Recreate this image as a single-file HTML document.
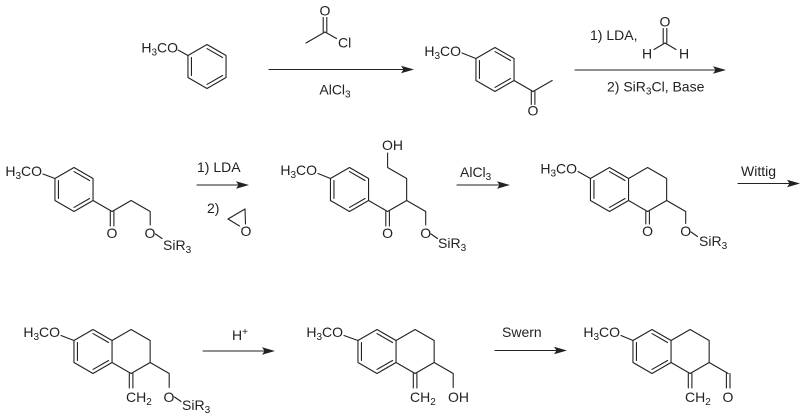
<!DOCTYPE html>
<html>
<head>
<meta charset="utf-8">
<style>
html,body{margin:0;padding:0;background:#fff;}
svg{display:block;}
text{font-family:"Liberation Sans",Arial,sans-serif;font-size:14px;fill:#222;}
.s{font-size:10px;}
</style>
</head>
<body>
<svg width="800" height="419" viewBox="0 0 800 419" xmlns="http://www.w3.org/2000/svg">
<g fill="none" stroke="#222" stroke-width="1.1" stroke-linecap="round" stroke-linejoin="round">

<!-- ===== A: anisole ===== -->
<polygon points="207,44.5 226.05,55.5 226.05,77.5 207,88.5 187.95,77.5 187.95,55.5"/>
<line x1="207" y1="48.55" x2="222.55" y2="57.52"/>
<line x1="222.55" y1="75.48" x2="207" y2="84.45"/>
<line x1="191.45" y1="75.48" x2="191.45" y2="57.52"/>
<line x1="178" y1="50" x2="187.95" y2="55.5"/>

<!-- ===== B: acetyl chloride ===== -->
<line x1="325" y1="32" x2="306" y2="43"/>
<line x1="323.2" y1="32" x2="323.2" y2="17.5"/>
<line x1="326.8" y1="32" x2="326.8" y2="17.5"/>
<line x1="325" y1="32" x2="336.5" y2="38.5"/>

<!-- arrow 1 -->
<line x1="269" y1="69.5" x2="404" y2="69.5"/>

<!-- ===== C: 4-methoxyacetophenone ===== -->
<polygon points="495,47.5 514.05,58.5 514.05,80.5 495,91.5 475.95,80.5 475.95,58.5"/>
<line x1="495" y1="51.55" x2="510.55" y2="60.52"/>
<line x1="510.55" y1="78.48" x2="495" y2="87.45"/>
<line x1="479.45" y1="78.48" x2="479.45" y2="60.52"/>
<line x1="462" y1="53" x2="475.95" y2="58.5"/>
<line x1="514.05" y1="80.5" x2="533.1" y2="91.5"/>
<line x1="533.1" y1="91.5" x2="552.15" y2="80.5"/>
<line x1="531.3" y1="91.5" x2="531.3" y2="104.5"/>
<line x1="534.9" y1="91.5" x2="534.9" y2="104.5"/>

<!-- arrow 2 -->
<line x1="575" y1="70" x2="716" y2="70"/>
<!-- formaldehyde -->
<line x1="663.2" y1="43" x2="663.2" y2="28.5"/>
<line x1="666.8" y1="43" x2="666.8" y2="28.5"/>
<line x1="665" y1="43" x2="654" y2="49.5"/>
<line x1="665" y1="43" x2="676" y2="49.5"/>

<!-- ===== D ===== -->
<polygon points="74,167.5 93.05,178.5 93.05,200.5 74,211.5 54.95,200.5 54.95,178.5"/>
<line x1="74" y1="171.55" x2="89.55" y2="180.52"/>
<line x1="89.55" y1="198.48" x2="74" y2="207.45"/>
<line x1="58.45" y1="198.48" x2="58.45" y2="180.52"/>
<line x1="43" y1="174" x2="54.95" y2="178.5"/>
<polyline points="93.05,200.5 112.1,211.5 131.15,200.5 150.2,211.5 150.2,225"/>
<line x1="110.3" y1="211.5" x2="110.3" y2="226"/>
<line x1="113.9" y1="211.5" x2="113.9" y2="226"/>
<line x1="155.5" y1="234" x2="162" y2="238.5"/>

<!-- arrow 3 -->
<line x1="197" y1="185" x2="239" y2="185"/>
<!-- epoxide -->
<line x1="228" y1="219" x2="245" y2="209"/>
<line x1="245" y1="209" x2="245.5" y2="224"/>
<line x1="228" y1="219" x2="239.5" y2="226"/>

<!-- ===== E ===== -->
<polygon points="349.5,167.5 368.55,178.5 368.55,200.5 349.5,211.5 330.45,200.5 330.45,178.5"/>
<line x1="349.5" y1="171.55" x2="365.05" y2="180.52"/>
<line x1="365.05" y1="198.48" x2="349.5" y2="207.45"/>
<line x1="333.95" y1="198.48" x2="333.95" y2="180.52"/>
<line x1="318" y1="173.5" x2="330.45" y2="178.5"/>
<polyline points="368.55,200.5 387.6,211.5 406.65,200.5 406.65,178.5 387.6,167.5 387.6,153"/>
<polyline points="406.65,200.5 425.7,211.5 425.7,225"/>
<line x1="385.8" y1="211.5" x2="385.8" y2="226"/>
<line x1="389.4" y1="211.5" x2="389.4" y2="226"/>
<line x1="431" y1="234" x2="437.5" y2="238.5"/>

<!-- arrow 4 -->
<line x1="457" y1="185" x2="500" y2="185"/>

<!-- ===== F ===== -->
<polygon points="609.5,167.5 628.55,178.5 628.55,200.5 609.5,211.5 590.45,200.5 590.45,178.5"/>
<line x1="609.5" y1="171.55" x2="625.05" y2="180.52"/>
<line x1="625.05" y1="198.48" x2="609.5" y2="207.45"/>
<line x1="593.95" y1="198.48" x2="593.95" y2="180.52"/>
<polyline points="628.55,178.5 647.6,167.5 666.65,178.5 666.65,200.5 647.6,211.5 628.55,200.5"/>
<line x1="578" y1="171.5" x2="590.45" y2="178.5"/>
<line x1="645.8" y1="211.5" x2="645.8" y2="224"/>
<line x1="649.4" y1="211.5" x2="649.4" y2="224"/>
<polyline points="666.65,200.5 685.7,211.5 685.7,223.5"/>
<line x1="691" y1="232" x2="697.5" y2="236.5"/>

<!-- arrow 5 -->
<line x1="738" y1="183.5" x2="790" y2="183.5"/>

<!-- ===== G ===== -->
<polygon points="93,329.5 112.05,340.5 112.05,362.5 93,373.5 73.95,362.5 73.95,340.5"/>
<line x1="93" y1="333.55" x2="108.55" y2="342.52"/>
<line x1="108.55" y1="360.48" x2="93" y2="369.45"/>
<line x1="77.45" y1="360.48" x2="77.45" y2="342.52"/>
<polyline points="112.05,340.5 131.1,329.5 150.15,340.5 150.15,362.5 131.1,373.5 112.05,362.5"/>
<line x1="61" y1="335.5" x2="73.95" y2="340.5"/>
<line x1="129.3" y1="373.5" x2="129.3" y2="388"/>
<line x1="132.9" y1="373.5" x2="132.9" y2="388"/>
<polyline points="150.15,362.5 169.2,373.5 169.2,387.5"/>
<line x1="174.5" y1="397" x2="181" y2="401.5"/>

<!-- arrow 6 -->
<line x1="203" y1="351" x2="265" y2="351"/>

<!-- ===== H ===== -->
<polygon points="377,329.5 396.05,340.5 396.05,362.5 377,373.5 357.95,362.5 357.95,340.5"/>
<line x1="377" y1="333.55" x2="392.55" y2="342.52"/>
<line x1="392.55" y1="360.48" x2="377" y2="369.45"/>
<line x1="361.45" y1="360.48" x2="361.45" y2="342.52"/>
<polyline points="396.05,340.5 415.1,329.5 434.15,340.5 434.15,362.5 415.1,373.5 396.05,362.5"/>
<line x1="344" y1="335.5" x2="357.95" y2="340.5"/>
<line x1="413.3" y1="373.5" x2="413.3" y2="388"/>
<line x1="416.9" y1="373.5" x2="416.9" y2="388"/>
<polyline points="434.15,362.5 453.2,373.5 453.2,387.5"/>

<!-- arrow 7 -->
<line x1="495" y1="350.5" x2="557" y2="350.5"/>

<!-- ===== I ===== -->
<polygon points="652,329.5 671.05,340.5 671.05,362.5 652,373.5 632.95,362.5 632.95,340.5"/>
<line x1="652" y1="333.55" x2="667.55" y2="342.52"/>
<line x1="667.55" y1="360.48" x2="652" y2="369.45"/>
<line x1="636.45" y1="360.48" x2="636.45" y2="342.52"/>
<polyline points="671.05,340.5 690.1,329.5 709.15,340.5 709.15,362.5 690.1,373.5 671.05,362.5"/>
<line x1="621" y1="335.5" x2="632.95" y2="340.5"/>
<line x1="688.3" y1="373.5" x2="688.3" y2="388"/>
<line x1="691.9" y1="373.5" x2="691.9" y2="388"/>
<line x1="709.15" y1="362.5" x2="728.2" y2="373.5"/>
<line x1="726.4" y1="373.5" x2="726.4" y2="388"/>
<line x1="730" y1="373.5" x2="730" y2="388"/>
</g>

<!-- arrowheads -->
<g fill="#222" stroke="none">
<polygon points="414,69.5 401,65.8 403.5,69.5 401,73.2"/>
<polygon points="726,70 713,66.3 715.5,70 713,73.7"/>
<polygon points="249,185 236,181.3 238.5,185 236,188.7"/>
<polygon points="510,185 497,181.3 499.5,185 497,188.7"/>
<polygon points="800,183.5 787,179.8 789.5,183.5 787,187.2"/>
<polygon points="275,351 262,347.3 264.5,351 262,354.7"/>
<polygon points="567,350.5 554,346.8 556.5,350.5 554,354.2"/>
</g>

<!-- ===== labels ===== -->
<!-- A -->
<text x="178" y="52.5" text-anchor="end">H<tspan class="s" dy="3">3</tspan><tspan dy="-3">CO</tspan></text>
<!-- B -->
<text x="325" y="15.5" text-anchor="middle">O</text>
<text x="338" y="47.5">Cl</text>
<text x="335" y="94.5" text-anchor="middle">AlCl<tspan class="s" dy="3">3</tspan></text>
<!-- C -->
<text x="461" y="56" text-anchor="end">H<tspan class="s" dy="3">3</tspan><tspan dy="-3">CO</tspan></text>
<text x="533" y="115.5" text-anchor="middle">O</text>
<!-- reagents 2 -->
<text x="590" y="40">1) LDA,</text>
<text x="665" y="26.5" text-anchor="middle">O</text>
<text x="647" y="58.5" text-anchor="middle">H</text>
<text x="684" y="58.5" text-anchor="middle">H</text>
<text x="607" y="91.5">2) SiR<tspan class="s" dy="3">3</tspan><tspan dy="-3">Cl, Base</tspan></text>

<!-- D -->
<text x="42" y="176" text-anchor="end">H<tspan class="s" dy="3">3</tspan><tspan dy="-3">CO</tspan></text>
<text x="112" y="238" text-anchor="middle">O</text>
<text x="150" y="238" text-anchor="middle">O</text>
<text x="163" y="250">SiR<tspan class="s" dy="3">3</tspan></text>
<!-- reagents 3 -->
<text x="197" y="172">1) LDA</text>
<text x="207" y="213">2)</text>
<text x="246" y="236" text-anchor="middle">O</text>

<!-- E -->
<text x="317" y="175" text-anchor="end">H<tspan class="s" dy="3">3</tspan><tspan dy="-3">CO</tspan></text>
<text x="382" y="150">OH</text>
<text x="387.6" y="238" text-anchor="middle">O</text>
<text x="425.7" y="238" text-anchor="middle">O</text>
<text x="438" y="248">SiR<tspan class="s" dy="3">3</tspan></text>
<text x="460" y="177">AlCl<tspan class="s" dy="3">3</tspan></text>

<!-- F -->
<text x="577" y="173.5" text-anchor="end">H<tspan class="s" dy="3">3</tspan><tspan dy="-3">CO</tspan></text>
<text x="647.6" y="236" text-anchor="middle">O</text>
<text x="685.7" y="236" text-anchor="middle">O</text>
<text x="699" y="246">SiR<tspan class="s" dy="3">3</tspan></text>
<text x="741" y="176">Wittig</text>

<!-- G -->
<text x="60" y="337" text-anchor="end">H<tspan class="s" dy="3">3</tspan><tspan dy="-3">CO</tspan></text>
<text x="126" y="402">CH<tspan class="s" dy="3">2</tspan></text>
<text x="169" y="402" text-anchor="middle">O</text>
<text x="182" y="410">SiR<tspan class="s" dy="3">3</tspan></text>
<text x="232" y="340">H<tspan class="s" dy="-5">+</tspan></text>

<!-- H -->
<text x="343" y="337" text-anchor="end">H<tspan class="s" dy="3">3</tspan><tspan dy="-3">CO</tspan></text>
<text x="410" y="402">CH<tspan class="s" dy="3">2</tspan></text>
<text x="448" y="402">OH</text>
<text x="502" y="337">Swern</text>

<!-- I -->
<text x="620" y="337" text-anchor="end">H<tspan class="s" dy="3">3</tspan><tspan dy="-3">CO</tspan></text>
<text x="685" y="402">CH<tspan class="s" dy="3">2</tspan></text>
<text x="728" y="402" text-anchor="middle">O</text>
</svg>
</body>
</html>
